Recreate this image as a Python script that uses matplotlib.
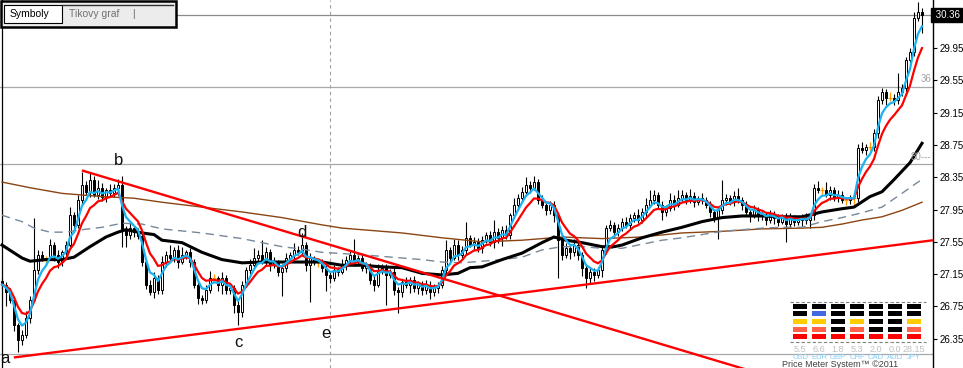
import matplotlib
matplotlib.use("Agg")
import matplotlib.pyplot as plt
from matplotlib.patches import Rectangle
import numpy as np
import pandas as pd

plt.rcParams['font.family'] = ['Liberation Sans', 'DejaVu Sans']

# closing price of every bar (open = previous close)
closes = [27.02, 26.93, 26.83, 26.52, 26.33, 26.40, 26.61, 26.83, 27.20, 27.39,
          27.35, 27.35, 27.51, 27.39, 27.30, 27.42, 27.51, 27.88, 27.76, 28.07,
          28.25, 28.17, 28.32, 28.13, 28.22, 28.10, 28.19, 28.15, 28.22, 28.25,
          27.70, 27.63, 27.72, 27.67, 27.62, 27.30, 27.02, 26.93, 27.10, 26.95,
          27.30, 27.39, 27.35, 27.45, 27.30, 27.39, 27.42, 27.30, 27.02, 26.85,
          26.83, 26.95, 27.10, 27.10, 27.02, 27.10, 26.95, 26.98, 26.77, 26.68,
          27.02, 27.20, 27.26, 27.35, 27.39, 27.30, 27.42, 27.26, 27.30, 27.18,
          27.23, 27.35, 27.39, 27.45, 27.42, 27.51, 27.26, 27.35, 27.30, 27.30,
          27.23, 27.14, 27.10, 27.20, 27.18, 27.26, 27.33, 27.39, 27.30, 27.35,
          27.23, 27.26, 27.08, 27.02, 27.20, 27.23, 27.14, 27.18, 26.95, 26.93,
          27.05, 27.02, 27.08, 26.98, 27.03, 26.95, 27.02, 26.93, 26.98, 27.02,
          27.20, 27.45, 27.35, 27.51, 27.39, 27.45, 27.60, 27.51, 27.55, 27.47,
          27.57, 27.63, 27.55, 27.67, 27.60, 27.70, 27.63, 27.88, 28.01, 28.09,
          28.17, 28.25, 28.22, 28.29, 28.07, 28.01, 27.94, 28.01, 27.88, 27.57,
          27.39, 27.47, 27.42, 27.51, 27.39, 27.23, 27.10, 27.18, 27.14, 27.20,
          27.45, 27.72, 27.76, 27.67, 27.72, 27.80, 27.76, 27.85, 27.88, 27.82,
          27.92, 28.01, 28.07, 28.13, 28.01, 27.92, 27.97, 28.07, 28.01, 28.09,
          28.13, 28.07, 28.12, 28.04, 28.09, 28.07, 28.01, 27.92, 27.85, 27.94,
          28.07, 28.09, 28.04, 28.12, 28.07, 28.01, 27.92, 27.88, 27.94, 27.87,
          27.88, 27.82, 27.89, 27.85, 27.80, 27.87, 27.77, 27.85, 27.80, 27.82,
          27.85, 27.82, 27.88, 28.22, 28.19, 28.19, 28.13, 28.19, 28.09, 28.13,
          28.07, 28.07, 28.09, 28.09, 28.71, 28.69, 28.72, 28.72, 28.90, 29.31,
          29.40, 29.33, 29.33, 29.31, 29.40, 29.45, 29.80, 29.90, 30.32, 30.40, 30.36]
first_open = 27.06

# wick lengths above / below the body, in cents
wick_up = [4, 3, 5, 2, 3, 6, 8, 5, 65, 6,
           5, 3, 8, 4, 6, 3, 5, 10, 4, 6,
           16, 5, 8, 4, 10, 6, 3, 7, 5, 8,
           12, 4, 6, 3, 5, 4, 3, 6, 8, 4,
           8, 5, 12, 4, 6, 10, 3, 5, 4, 3,
           4, 6, 9, 5, 3, 8, 4, 6, 3, 5,
           5, 4, 8, 12, 6, 18, 7, 4, 6, 3,
           4, 6, 3, 8, 5, 15, 4, 6, 3, 5,
           4, 3, 5, 6, 4, 8, 5, 6, 20, 4,
           5, 4, 3, 6, 8, 4, 5, 3, 6, 4,
           4, 6, 3, 5, 4, 3, 6, 4, 5, 3,
           5, 12, 4, 8, 6, 5, 20, 4, 6, 5,
           5, 4, 6, 15, 5, 4, 6, 3, 8, 5,
           6, 10, 5, 8, 4, 6, 3, 5, 4, 3,
           5, 6, 4, 8, 5, 3, 4, 6, 5, 4,
           5, 4, 6, 3, 5, 4, 6, 5, 4, 8,
           5, 8, 12, 6, 4, 5, 3, 8, 6, 10,
           6, 4, 8, 5, 3, 6, 4, 5, 3, 4,
           25, 5, 4, 6, 10, 4, 5, 3, 6, 4,
           4, 3, 6, 4, 5, 3, 4, 6, 3, 5,
           4, 6, 3, 5, 8, 4, 10, 5, 4, 6,
           5, 3, 4, 6, 5, 8, 4, 6, 5, 4,
           6, 4, 8, 5, 24, 6, 4, 5, 8, 12, 4]
wick_dn = [5, 18, 4, 8, 15, 6, 4, 7, 3, 5,
           4, 6, 3, 8, 7, 5, 4, 3, 6, 4,
           5, 4, 6, 3, 5, 4, 6, 3, 5, 4,
           21, 15, 4, 6, 3, 5, 6, 4, 7, 5,
           4, 6, 3, 5, 7, 3, 5, 6, 4, 7,
           5, 4, 3, 6, 8, 12, 4, 5, 10, 16,
           6, 3, 5, 4, 6, 3, 5, 7, 4, 5,
           30, 5, 4, 6, 3, 5, 7, 45, 4, 6,
           5, 20, 6, 4, 5, 3, 6, 4, 5, 3,
           4, 6, 5, 8, 3, 5, 37, 4, 6, 26,
           6, 4, 10, 5, 8, 6, 4, 9, 5, 6,
           4, 6, 5, 3, 6, 4, 5, 3, 6, 4,
           6, 4, 5, 8, 6, 10, 5, 4, 3, 6,
           4, 5, 6, 3, 5, 4, 6, 5, 8, 47,
           6, 4, 8, 5, 6, 10, 12, 6, 8, 4,
           8, 5, 4, 6, 5, 3, 4, 6, 5, 4,
           4, 6, 3, 5, 4, 10, 5, 4, 6, 3,
           3, 5, 4, 6, 3, 5, 4, 6, 5, 27,
           4, 6, 3, 5, 4, 6, 5, 8, 4, 6,
           5, 6, 4, 8, 5, 3, 22, 5, 6, 4,
           8, 5, 10, 6, 4, 5, 3, 6, 4, 5,
           4, 6, 5, 8, 5, 4, 6, 3, 5, 6,
           5, 8, 4, 6, 5, 4, 8, 6, 5, 4, 22]

# slow averages (bar index, price)
black_bars = [0, 5, 7, 11, 15, 18, 22, 26, 29, 31, 35, 38, 40, 45, 50, 55, 60, 65, 70, 75,
              80, 85, 90, 95, 100, 105, 110, 114, 117, 120, 125, 130, 135, 138, 141, 145,
              150, 153, 155, 160, 165, 170, 175, 180, 185, 190, 195, 200, 205, 210, 213,
              217, 220, 223, 227, 230]
black_vals = [27.51, 27.35, 27.31, 27.33, 27.33, 27.36, 27.49, 27.61, 27.67, 27.70,
              27.66, 27.64, 27.57, 27.54, 27.42, 27.33, 27.29, 27.30, 27.30, 27.30,
              27.30, 27.26, 27.26, 27.24, 27.23, 27.16, 27.14, 27.16, 27.23, 27.24,
              27.33, 27.41, 27.54, 27.61, 27.57, 27.54, 27.49, 27.49, 27.51, 27.60,
              27.67, 27.73, 27.80, 27.85, 27.87, 27.87, 27.86, 27.86, 27.92, 27.96,
              27.98, 28.11, 28.17, 28.32, 28.53, 28.77]
gray_bars = [0, 5, 8, 12, 16, 20, 25, 30, 35, 40, 50, 60, 70, 75, 80, 90, 100, 105, 110, 115,
             120, 125, 130, 135, 140, 145, 150, 155, 160, 165, 170, 175, 180, 185, 190, 195,
             200, 205, 210, 215, 220, 225, 229, 230]
gray_vals = [27.88, 27.80, 27.72, 27.67, 27.67, 27.70, 27.73, 27.78, 27.77, 27.71,
             27.66, 27.59, 27.49, 27.46, 27.42, 27.39, 27.35, 27.33, 27.30, 27.29,
             27.31, 27.33, 27.36, 27.45, 27.49, 27.49, 27.47, 27.47, 27.52, 27.57,
             27.60, 27.64, 27.68, 27.70, 27.72, 27.73, 27.73, 27.80, 27.85, 27.91,
             27.98, 28.15, 28.29, 28.32]
brown_bars = [0, 7, 15, 20, 25, 33, 40, 50, 60, 70, 80, 85, 90, 100, 110, 120, 130, 140, 150,
              160, 170, 180, 190, 200, 205, 210, 215, 220, 225, 230]
brown_vals = [28.29, 28.22, 28.15, 28.13, 28.11, 28.09, 28.04, 27.98, 27.92, 27.85,
              27.76, 27.72, 27.70, 27.66, 27.60, 27.55, 27.57, 27.61, 27.59, 27.61,
              27.66, 27.68, 27.71, 27.72, 27.73, 27.77, 27.82, 27.86, 27.94, 28.04]

# hand drawn trend lines (bar, price) end points
trend_down_bars = [20.25, 190]
trend_down_prices = [28.43, 25.91]
trend_up_bars = [3.25, 236]
trend_up_prices = [26.12, 27.59]

fib_levels = [29.47, 28.51, 26.16]
fib_tags = ["36", "80---", ""]
last_price = 30.36
cursor_bar = 82

wave_labels = ["a", "b", "c", "d", "e"]
wave_bars = [0.75, 29.25, 59, 75, 81]
wave_prices = [26.11, 28.56, 26.30, 27.67, 26.42]

yticks = [26.35, 26.75, 27.15, 27.55, 27.95, 28.35, 28.75, 29.15, 29.55, 29.95]

currencies = ["USD", "EUR", "GBP", "CHF", "CAD", "AUD", "JPY"]
strength = ["5.5", "6.6", "1.8", "5.3", "2.0", "0.0", "28.15"]
meter = [["black", "black", "#ffcc00", "#ff6347", "red"],
         ["black", "#4169e1", "#ffcc00", "#ff6347", "red"],
         ["black", "black", "black", "black", "red"],
         ["black", "black", "#ffcc00", "#ff6347", "red"],
         ["black", "black", "black", "black", "red"],
         ["black", "black", "black", "black", "red"],
         ["black", "black", "#ffcc00", "#ff6347", "red"]]

W, H = 963, 368
fig = plt.figure(figsize=(W / 100, H / 100), dpi=100)
fig.patch.set_facecolor("white")
ax = fig.add_axes([0, 0, 933 / W, 1])
ax.set_facecolor("white")

c = np.array(closes)
o = np.r_[first_open, c[:-1]]
idx = np.arange(len(c))
hi = np.maximum(o, c) + np.array(wick_up) / 100
lo = np.minimum(o, c) - np.array(wick_dn) / 100
doji = np.isclose(o, c)
up = (c > o) & ~doji
dn = (c < o) & ~doji

# levels and cursor
for lvl in fib_levels:
    ax.axhline(lvl, color="#a8a8a8", lw=0.9, zorder=1)
ax.hlines(last_price, 43.5, 233, color="#8c8c8c", lw=0.9, zorder=1)
ax.axvline(cursor_bar, color="#a0a0a0", lw=0.8, ls=(0, (3, 3)), zorder=1)
ax.axvline(-0.1, color="black", lw=0.9, zorder=1)

# candles
ax.vlines(idx[~doji], lo[~doji], hi[~doji], color="black", lw=0.8, zorder=2)
ax.bar(idx[up], (c - o)[up], bottom=o[up], width=0.62, color="white",
       edgecolor="black", lw=0.7, zorder=3)
ax.bar(idx[dn], (o - c)[dn], bottom=c[dn], width=0.62, color="black",
       edgecolor="black", lw=0.7, zorder=3)
ax.vlines(idx[doji], lo[doji], hi[doji], color="#ff9900", lw=0.9, zorder=3)
ax.hlines(c[doji], idx[doji] - 0.5, idx[doji] + 0.5, color="#ff9900", lw=0.9, zorder=3)

# averages
blue = pd.Series(closes).ewm(span=4, adjust=False).mean()
red = pd.Series(closes).ewm(span=8, adjust=False).mean()
ax.plot(brown_bars, brown_vals, color="#8b4513", lw=1.0, zorder=4)
ax.plot(gray_bars, gray_vals, color="#778899", lw=1.0, dashes=(6, 4), zorder=4)
ax.plot(black_bars, black_vals, color="black", lw=2.2, zorder=4)
ax.plot(idx, red, color="#ff0000", lw=1.6, zorder=5)
ax.plot(idx, blue, color="#1ab2f0", lw=1.6, zorder=6)

# trend lines
ax.plot(trend_down_bars, trend_down_prices, color="#ff0000", lw=1.7, zorder=7)
ax.plot(trend_up_bars, trend_up_prices, color="#ff0000", lw=1.7, zorder=7)

for lab, b, p in zip(wave_labels, wave_bars, wave_prices):
    ax.text(b, p, lab, fontsize=12, ha="center", va="center", color="#101010", zorder=8)

for lvl, tag in zip(fib_levels, fib_tags):
    if tag:
        ax.text(232.4, lvl + 0.03, tag, fontsize=7, color="#a0a0a0",
                ha="right", va="bottom", zorder=8)

ax.set_xlim(-0.5, 232.75)
ax.set_ylim(25.988, 30.544)
ax.set_xticks([])
ax.yaxis.tick_right()
ax.set_yticks(yticks)
ax.set_yticklabels([f"{v:.2f}" for v in yticks])
ax.tick_params(axis="y", length=3, width=0.8, pad=2, labelsize=7, colors="black")
for side in ["top", "bottom", "left"]:
    ax.spines[side].set_visible(False)
ax.spines["right"].set_color("black")
ax.spines["right"].set_linewidth(1.0)
ax.text(1.0, last_price, " 30.36", transform=ax.get_yaxis_transform(), fontsize=7,
        ha="left", va="center", color="white", clip_on=False, zorder=9,
        bbox=dict(facecolor="black", edgecolor="black", pad=1.2))

# overlay in pixel units for the terminal widgets
ov = fig.add_axes([0, 0, 1, 1], zorder=10)
ov.set_xlim(0, W)
ov.set_ylim(H, 0)
ov.axis("off")
ov.patch.set_alpha(0)

ov.add_patch(Rectangle((1, 1), 175, 26, facecolor="#ececec", edgecolor="black", lw=1.8))
ov.plot([62, 173], [4.5, 4.5], color="#303030", lw=1.0)
ov.add_patch(Rectangle((4, 4.5), 58, 18, facecolor="white", edgecolor="black", lw=0.8))
ov.text(10, 14, "Symboly", fontsize=7.5, va="center", color="black")
ov.text(69, 14, "Tikovy graf", fontsize=7.5, va="center", color="#707070")
ov.text(132, 14, "|", fontsize=7.5, va="center", color="#707070")

ov.plot([790, 926], [302, 302], color="#808080", lw=0.8, ls=(0, (3, 2)))
ov.plot([790, 926], [342, 342], color="#808080", lw=0.8, ls=(0, (3, 2)))
for j, cur in enumerate(currencies):
    cx = 800 + 19 * j
    for r, col in enumerate(meter[j]):
        ov.add_patch(Rectangle((cx - 7, 303.5 + 7.7 * r), 14, 5, facecolor=col, edgecolor="none"))
    ov.text(cx, 349.5, strength[j], fontsize=6.5, ha="center", va="center", color="#c0c0c0")
    ov.text(cx, 357.5, cur, fontsize=5.5, ha="center", va="center", color="#87cefa")
ov.text(840, 364.5, "Price Meter System\u2122 \u00a92011", fontsize=6.5, ha="center",
        va="center", color="#404040")

fig.savefig("out.png", dpi=100)
